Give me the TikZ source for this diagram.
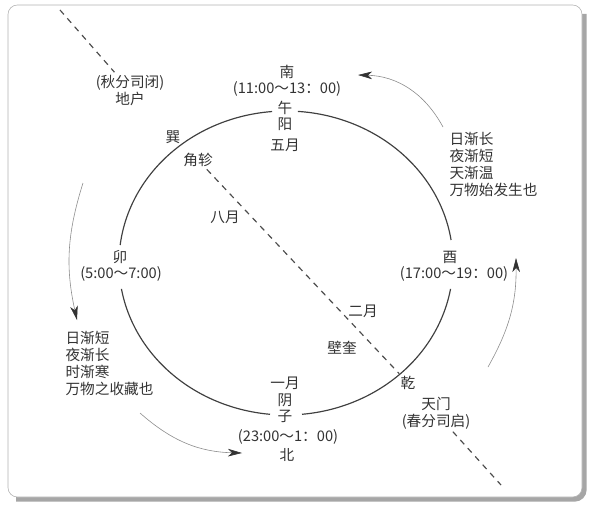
\documentclass[tikz,border=0pt]{standalone}
\usepackage{fontspec}
\setmainfont{Noto Sans CJK SC}
\usepackage{tikz}
\usetikzlibrary{arrows.meta}

\begin{document}
\begin{tikzpicture}[x=0.03cm, y=-0.03cm,
    lbl/.style={text=black!80, font=\fontsize{12.5}{14.5}\selectfont, inner sep=2pt},
    blk/.style={lbl, align=left, anchor=west},
    ring/.style={black!75, line width=1pt},
    axisline/.style={black!70, line width=1pt, dash pattern=on 5pt off 4.5pt},
    flow/.style={black!45, line width=0.5pt, -{Stealth[length=12pt, width=6.5pt, inset=3.5pt, color=black!80]}}]
    % Fix picture size (scan is 591 x 506 px, y grows downwards)
    \useasboundingbox (0,0) rectangle (591,506);

    % Frame with a shadow at right and bottom
    \draw[black!35, line width=4.5pt, rounded corners=8] (584,14) -- (584,499) -- (16,499);
    \draw[black!30, fill=white, line width=0.5pt, rounded corners=8] (8,5) rectangle (582,497);

    % Labels on and round the ring
    \node[lbl] (nan) at (287,72) {南};
    \node[lbl] (nanshi) at (287,89) {(11:00～13：00)};
    \node[lbl] (wu) at (285,108) {午};
    \node[lbl] (yang) at (285,124) {阳};
    \node[lbl] (wuyue) at (285,145) {五月};
    \node[lbl] (mao) at (120,257) {卯};
    \node[lbl] (maoshi) at (121,274) {(5:00～7:00)};
    \node[lbl] (you) at (450,257) {酉};
    \node[lbl] (youshi) at (454,274) {(17:00～19：00)};
    \node[lbl] (yiyue) at (285,383) {一月};
    \node[lbl] (yin) at (285,400) {阴};
    \node[lbl] (zi) at (285,416) {子};
    \node[lbl] (zishi) at (288,437) {(23:00～1：00)};
    \node[lbl] (bei) at (287,455) {北};
    \node[lbl] (xun) at (173,137) {巽};
    \node[lbl] (jiaozhen) at (198,160) {角轸};
    \node[lbl] (bayue) at (225,217) {八月};
    \node[lbl] (eryue) at (363,311) {二月};
    \node[lbl] (bikui) at (342,348) {壁奎};
    \node[lbl] (qian) at (408,383) {乾};
    \node[lbl, align=center] (dihu) at (130,90) {(秋分司闭)\\地户};
    \node[lbl, align=center] (tianmen) at (436,413) {天门\\(春分司启)};

    % Text blocks
    \node[blk] (spring) at (447,164) {日渐长\\夜渐短\\天渐温\\万物始发生也};
    \node[blk] (autumn) at (63,363) {日渐短\\夜渐长\\时渐寒\\万物之收藏也};

    % Ring (ellipse, broken at the four labels)
    \draw[ring, domain=-85.9:-8.7, samples=60] plot ({286+167*cos(\x)}, {263+152*sin(\x)});
    \draw[ring, domain=9.8:84.5, samples=60] plot ({286+167*cos(\x)}, {263+152*sin(\x)});
    \draw[ring, domain=95.5:170.2, samples=60] plot ({286+167*cos(\x)}, {263+152*sin(\x)});
    \draw[ring, domain=186.8:265.2, samples=60] plot ({286+167*cos(\x)}, {263+152*sin(\x)});

    % Dashed axis through the gates
    \coordinate (ax0) at (60,10);
    \coordinate (ax1) at (501,485);
    \draw[axisline] (ax0) -- (dihu);
    \draw[axisline] (jiaozhen) -- (qian);
    \draw[axisline] (tianmen) -- (ax1);

    % Season arrows
    \coordinate (ur0) at (443,127);
    \coordinate (ur1) at (358,75);
    \coordinate (rt0) at (488,367);
    \coordinate (rt1) at (516,258);
    \coordinate (lf0) at (83,183);
    \coordinate (lf1) at (77,320);
    \coordinate (bt0) at (140,413);
    \coordinate (bt1) at (242,453);
    \draw[flow] (ur0) to[bend right=30] (ur1);
    \draw[flow] (rt0) to[bend right=15] (rt1);
    \draw[flow] (lf0) to[bend right=15] (lf1);
    \draw[flow] (bt0) to[bend right=20] (bt1);
\end{tikzpicture}
\end{document}
